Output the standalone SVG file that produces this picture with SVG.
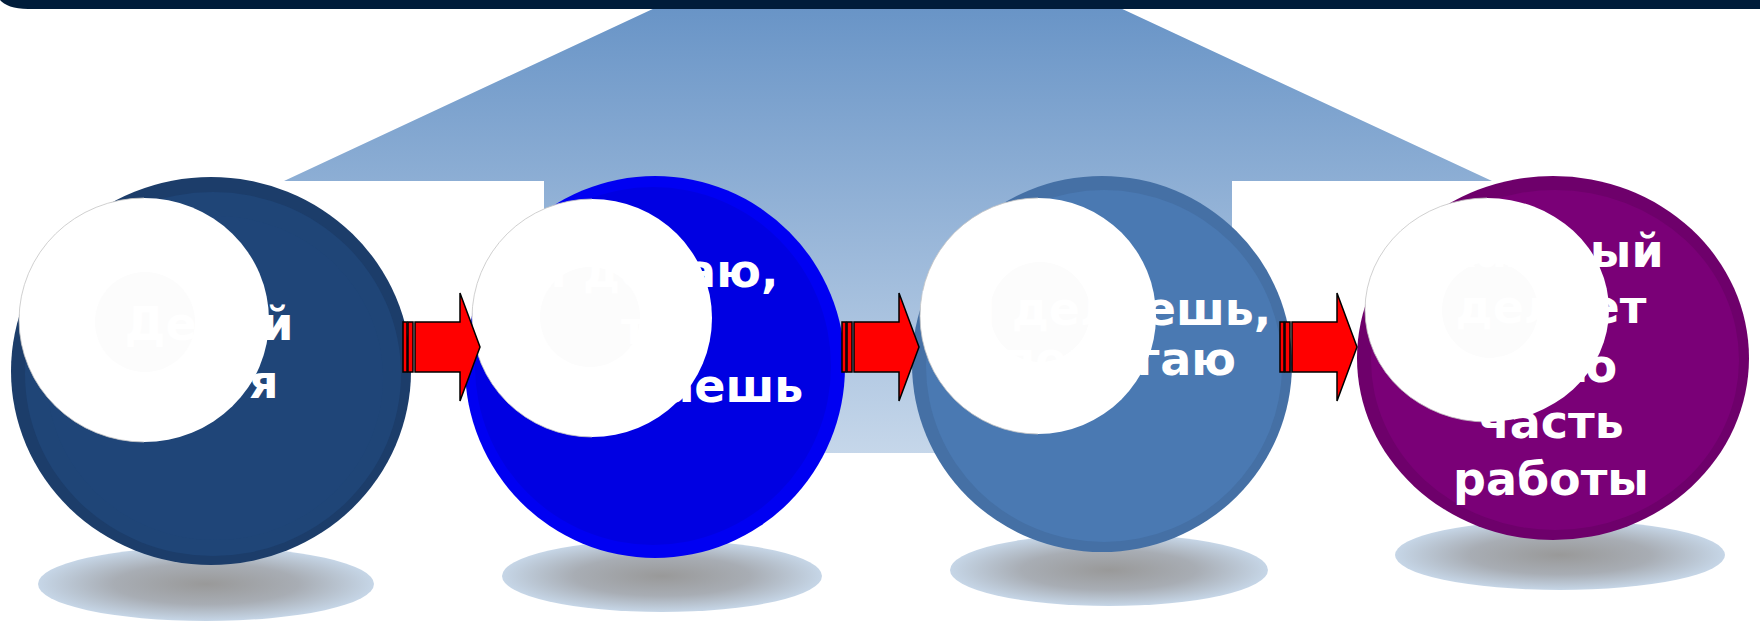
<svg xmlns="http://www.w3.org/2000/svg" xmlns:xlink="http://www.w3.org/1999/xlink" width="1760" height="623" viewBox="0 0 1760 623">
  <style>
    .lbl { font-family: "DejaVu Sans", Verdana, sans-serif; font-weight: bold; font-size: 46px; fill: #ffffff; text-anchor: middle; }
    .shadow { fill: url(#shGrad); }
    .photo { fill: #ffffff; }
    .photoEdge { fill: none; stroke: #c4c4c4; stroke-width: 0.8; }
    .logo { fill: #fcfcfc; }
    .arr { fill: #ff0000; stroke: #000000; stroke-width: 1.5; stroke-linejoin: miter; }
  </style>
  <defs>
    <linearGradient id="bigGrad" gradientUnits="userSpaceOnUse" x1="0" y1="0" x2="0" y2="455">
      <stop offset="0" stop-color="#6793c6"/>
      <stop offset="1" stop-color="#c6d7ea"/>
    </linearGradient>
    <radialGradient id="shGrad" cx="0.5" cy="0.5" r="0.5">
      <stop offset="0" stop-color="#999999"/>
      <stop offset="0.55" stop-color="#a8adb4"/>
      <stop offset="1" stop-color="#c6d6e7"/>
    </radialGradient>
    <g id="stripedArrow">
      <rect class="arr" x="0" y="-25" width="4" height="50"/>
      <rect class="arr" x="5" y="-25" width="5" height="50"/>
      <path class="arr" d="M12,-25 H57 V-54 L77,0 L57,54 V25 H12 Z"/>
    </g>
  </defs>

  <!-- background -->
  <rect x="0" y="0" width="1760" height="623" fill="#ffffff"/>
  <polygon points="672,0 1103,0 1492,181 1232,181 1232,453 544,453 544,181 284,181" fill="url(#bigGrad)"/>
  <path d="M0,0 H1760 V9 H28 C14,9 4,5 0,0 Z" fill="#001c3a"/>

  <!-- shadows -->
  <ellipse class="shadow" cx="206" cy="584" rx="168" ry="37"/>
  <ellipse class="shadow" cx="662" cy="576" rx="160" ry="36"/>
  <ellipse class="shadow" cx="1109" cy="570" rx="159" ry="36"/>
  <ellipse class="shadow" cx="1560" cy="555" rx="165" ry="35"/>

  <g id="node1">
    <ellipse cx="211" cy="371" rx="200" ry="194" fill="#1c3d6a"/>
    <ellipse cx="213" cy="374" rx="188" ry="182" fill="#1f4577"/>
    <ellipse cx="215" cy="378" rx="168" ry="162" fill="#204679" opacity="0.6"/>
    <ellipse class="photo" cx="144" cy="320" rx="125" ry="122"/>
    <circle class="logo" cx="145" cy="322" r="50"/>
    <path class="photoEdge" d="M144,198 A125,122 0 0 0 144,442"/>
    <text class="lbl" x="209" y="340">Делай</text>
    <text class="lbl" x="209" y="398">как я</text>
  </g>

  <g id="node2">
    <ellipse cx="655" cy="367" rx="190" ry="191" fill="#0000f2"/>
    <ellipse cx="653" cy="366" rx="178" ry="179" fill="#0000e2"/>
    <ellipse class="photo" cx="592" cy="318" rx="120" ry="119"/>
    <circle class="logo" cx="590" cy="317" r="50"/>
    <path class="photoEdge" d="M592,199 A120,119 0 0 0 592,437"/>
    <text class="lbl" x="655" y="287">Я делаю,</text>
    <text class="lbl" x="655" y="344">ты</text>
    <text class="lbl" x="655" y="402">помогаешь</text>
  </g>

  <g id="node3">
    <ellipse cx="1102" cy="364" rx="190" ry="188" fill="#4570a5"/>
    <ellipse cx="1104" cy="366" rx="178" ry="176" fill="#4a79b2"/>
    <ellipse class="photo" cx="1038" cy="316" rx="118" ry="118"/>
    <circle class="logo" cx="1040" cy="312" r="50"/>
    <path class="photoEdge" d="M1038,198 A118,118 0 0 0 1038,434"/>
    <text class="lbl" x="1097" y="325">Ты делаешь,</text>
    <text class="lbl" x="1097" y="375">я помогаю</text>
  </g>

  <g id="node4">
    <ellipse cx="1553" cy="358" rx="196" ry="182" fill="#6e006b"/>
    <ellipse cx="1555" cy="360" rx="184" ry="170" fill="#7a0077"/>
    <ellipse class="photo" cx="1487" cy="310" rx="122" ry="112"/>
    <circle class="logo" cx="1490" cy="310" r="48"/>
    <path class="photoEdge" d="M1487,198 A122,112 0 0 0 1487,422"/>
    <text class="lbl" x="1551" y="267">Каждый</text>
    <text class="lbl" x="1551" y="323">делает</text>
    <text class="lbl" x="1551" y="382">свою</text>
    <text class="lbl" x="1551" y="438">часть</text>
    <text class="lbl" x="1551" y="495">работы</text>
  </g>

  <g id="connectors">
    <use xlink:href="#stripedArrow" transform="translate(403,347)"/>
    <use xlink:href="#stripedArrow" transform="translate(842,347)"/>
    <use xlink:href="#stripedArrow" transform="translate(1280,347)"/>
  </g>
</svg>
